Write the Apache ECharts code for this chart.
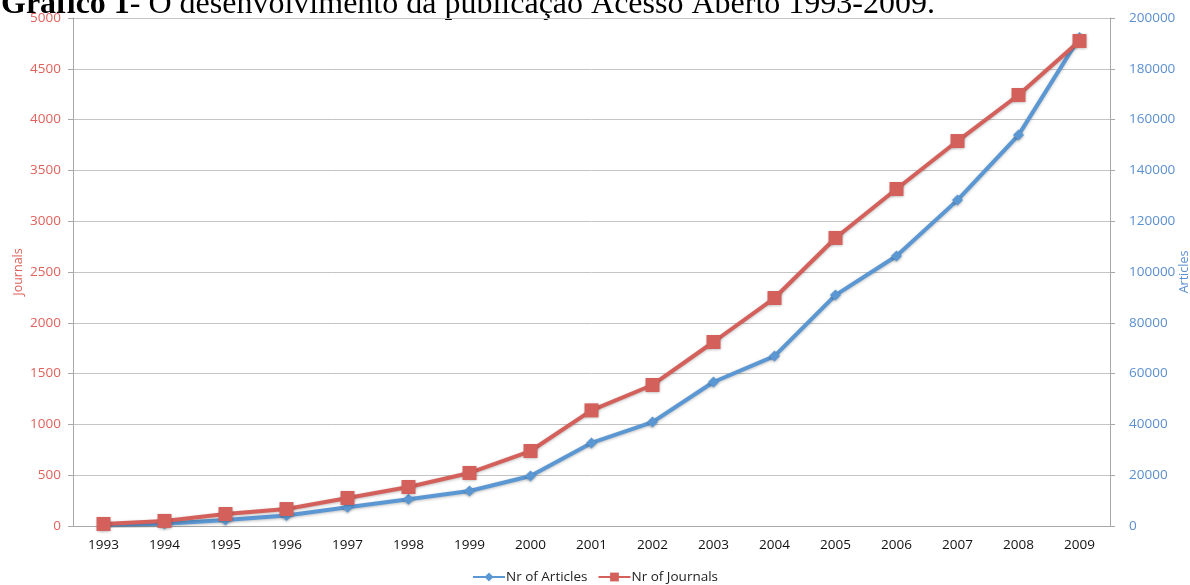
<!DOCTYPE html>
<html>
<head>
<meta charset="utf-8">
<script src="https://cdn.jsdelivr.net/npm/echarts@6/dist/echarts.min.js"></script>
<style>
  html, body { margin: 0; padding: 0; background: #fff; }
  #chart { width: 1190px; height: 585px; }
</style>
</head>
<body>
<div id="chart"></div>
<script>
// Open Access publishing growth, 1993-2009
const years = ['1993','1994','1995','1996','1997','1998','1999','2000','2001',
               '2002','2003','2004','2005','2006','2007','2008','2009'];
const articles = [500, 900, 2400, 4100, 7400, 10500, 13800, 19700, 32700,
                  40900, 56700, 66900, 90900, 106300, 128300, 153900, 192300];
const journals = [20, 50, 118, 167, 276, 384, 522, 738, 1138,
                  1388, 1811, 2244, 2835, 3317, 3789, 4242, 4774];

const RED = '#d4605b';
const BLUE = '#5b97d3';
const RED_TEXT = '#e0625c';
const BLUE_TEXT = '#5b8fd0';
const GRID = '#c4c4c4';
const FONT = '"Open Sans", "Liberation Sans", sans-serif';
const SERIF = '"Liberation Serif", "DejaVu Serif", serif';

const plain = v => String(v);

// vertical axis title, reading bottom to top
const axisTitle = (text, x, color) => ({
  type: 'text',
  x: x,
  y: 272,
  rotation: Math.PI / 2,
  style: {
    text: text,
    fontFamily: FONT,
    fontSize: 12.5,
    fill: color,
    align: 'center',
    verticalAlign: 'middle'
  }
});

const chart = echarts.init(document.getElementById('chart'), null, { renderer: 'canvas' });

chart.setOption({
  animation: false,
  backgroundColor: '#fff',
  textStyle: { fontFamily: FONT },
  graphic: [{
    type: 'text',
    x: 1,
    y: 5,
    style: {
      text: '{b|Gráfico 1}- O desenvolvimento da publicação Acesso Aberto 1993-2009.',
      rich: {
        b: { fontFamily: SERIF, fontSize: 32, fontWeight: 'bold', fill: '#000' }
      },
      fontFamily: SERIF,
      fontSize: 32,
      fill: '#000',
      verticalAlign: 'middle'
    }
  },
  axisTitle('Journals', 18, RED_TEXT),
  axisTitle('Articles', 1184, BLUE_TEXT)],
  grid: { left: 73, right: 80, top: 18, bottom: 59, outerBoundsMode: 'none', containLabel: false },
  legend: {
    bottom: -4,
    left: 'center',
    itemWidth: 32,
    itemHeight: 11,
    itemGap: 10,
    textStyle: { fontSize: 13.5, color: '#222', fontFamily: FONT, padding: [0, 0, 0, -4] },
    data: ['Nr of Articles', 'Nr of Journals']
  },
  xAxis: {
    type: 'category',
    data: years,
    boundaryGap: true,
    axisLine: { lineStyle: { color: '#a8a8a8', width: 1 } },
    axisTick: { alignWithLabel: true, length: 5, lineStyle: { color: '#a8a8a8' } },
    axisLabel: { color: '#111', fontSize: 13.5, margin: 12, fontFamily: FONT }
  },
  yAxis: [{
    type: 'value',
    min: 0, max: 5000, interval: 500,
    position: 'left',
    axisLine: { show: true, lineStyle: { color: '#a8a8a8' } },
    axisTick: { show: true, length: 5, lineStyle: { color: '#a8a8a8' } },
    axisLabel: { color: RED_TEXT, fontSize: 13.5, margin: 12, fontFamily: FONT, formatter: plain },
    splitLine: { lineStyle: { color: GRID, width: 1 } }
  }, {
    type: 'value',
    min: 0, max: 200000, interval: 20000,
    position: 'right',
    axisLine: { show: true, lineStyle: { color: '#a8a8a8' } },
    axisTick: { show: true, length: 5, lineStyle: { color: '#a8a8a8' } },
    axisLabel: { color: BLUE_TEXT, fontSize: 13.5, margin: 19, fontFamily: FONT, formatter: plain },
    splitLine: { show: false }
  }],
  series: [{
    name: 'Nr of Articles',
    type: 'line',
    yAxisIndex: 1,
    data: articles,
    symbol: 'diamond',
    symbolSize: 11,
    showAllSymbol: true,
    lineStyle: { color: BLUE, width: 4, shadowColor: 'rgba(0,0,0,0.25)', shadowBlur: 3, shadowOffsetY: 1 },
    itemStyle: { color: BLUE, shadowColor: 'rgba(0,0,0,0.3)', shadowBlur: 3, shadowOffsetY: 1 },
    z: 2
  }, {
    name: 'Nr of Journals',
    type: 'line',
    yAxisIndex: 0,
    data: journals,
    symbol: 'rect',
    symbolSize: 14,
    showAllSymbol: true,
    lineStyle: { color: RED, width: 4, shadowColor: 'rgba(0,0,0,0.25)', shadowBlur: 3, shadowOffsetY: 1 },
    itemStyle: { color: RED, shadowColor: 'rgba(0,0,0,0.3)', shadowBlur: 3, shadowOffsetY: 1 },
    z: 3
  }]
});
</script>
</body>
</html>
